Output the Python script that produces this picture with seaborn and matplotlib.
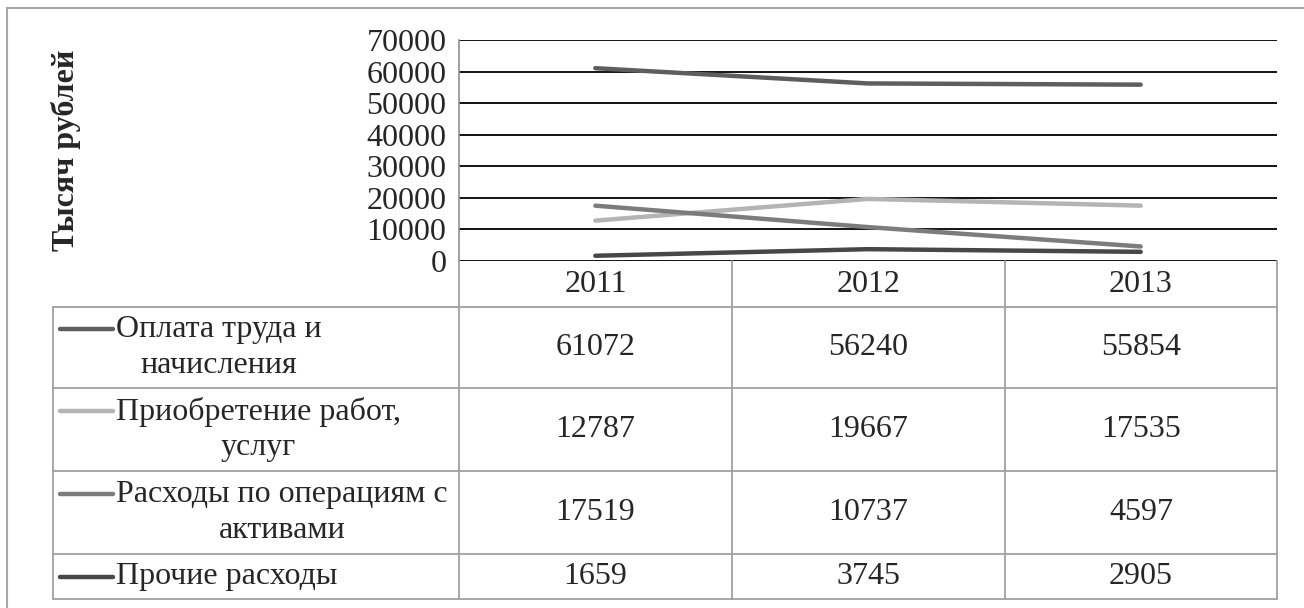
import matplotlib
matplotlib.use("Agg")
import matplotlib.pyplot as plt
import seaborn as sns
import pandas as pd
from matplotlib.lines import Line2D
from matplotlib.patches import Rectangle

years = ["2011", "2012", "2013"]
series_names = ["Оплата труда и\nначисления", "Приобретение работ,\nуслуг",
                "Расходы по операциям с\nактивами", "Прочие расходы"]
wages = [61072, 56240, 55854]
services = [12787, 19667, 17535]
assets = [17519, 10737, 4597]
other = [1659, 3745, 2905]
y_ticks = [0, 10000, 20000, 30000, 40000, 50000, 60000, 70000]
y_label = "Тысяч рублей"

colors = ["#5e5e5e", "#b4b4b4", "#7c7c7c", "#474747"]
values = [wages, services, assets, other]

rows = []
for name, vals in zip(series_names, values):
    for i, (yr, v) in enumerate(zip(years, vals)):
        rows.append({"series": name, "x": i, "year": yr, "value": v})
df = pd.DataFrame(rows)

sns.set_theme(style="white")
plt.rcParams["font.family"] = ["Liberation Serif", "DejaVu Serif"]

FS = 23
W, H = 1304, 608
fig = plt.figure(figsize=(W / 100, H / 100), dpi=100)

def fx(px):
    return px / W

def fy(py):
    return 1 - py / H

left, right, top, bottom = 459, 1277, 40, 261
ax = fig.add_axes([fx(left), fy(bottom), fx(right - left), (bottom - top) / H])
sns.lineplot(data=df, x="x", y="value", hue="series", palette=colors,
             hue_order=series_names, linewidth=3.2, legend=False, ax=ax,
             sort=False)
ax.set_xlim(-0.5, 2.5)
ax.set_ylim(0, 70000)
ax.set_yticks(y_ticks)
ax.set_yticklabels([str(t) for t in y_ticks], fontsize=FS)
ax.set_xticks([])
ax.set_xlabel("")
ax.set_ylabel("")
ax.tick_params(axis="y", length=0, pad=9)
for t in y_ticks:
    ax.axhline(t, color="black", linewidth=1.3, zorder=0)
for s in ["top", "right", "bottom"]:
    ax.spines[s].set_visible(False)
ax.spines["left"].set_color("#909090")
ax.spines["left"].set_linewidth(1.2)

fig.text(fx(66), fy(150), y_label, rotation=90, fontsize=FS,
         fontweight="bold", ha="center", va="center")

# outer border (top and left visible)
fig.add_artist(Rectangle((fx(7), fy(650)), fx(1400), (650 - 8) / H,
                         fill=False, edgecolor="#a8a8a8", linewidth=1.5,
                         transform=fig.transFigure))

gc = "#a0a0a0"
lw = 1.3
col_x = [459, 732, 1005, 1277]
row_y = [307, 388, 471, 554, 599]

def hline(y, x0, x1, color=gc):
    fig.add_artist(Line2D([fx(x0), fx(x1)], [fy(y), fy(y)], color=color,
                          linewidth=lw, transform=fig.transFigure))

def vline(x, y0, y1, color=gc):
    fig.add_artist(Line2D([fx(x), fx(x)], [fy(y0), fy(y1)], color=color,
                          linewidth=lw, transform=fig.transFigure))

for y in row_y:
    hline(y, 53, 1277)
vline(53, 307, 599)
vline(459, 261, 599)
for x in col_x[1:]:
    vline(x, 261, 599)

# header years
for i, yr in enumerate(years):
    cx = (col_x[i] + col_x[i + 1]) / 2
    fig.text(fx(cx), fy(284), yr, fontsize=FS, ha="center", va="center")

# rows
for r, (name, vals, c) in enumerate(zip(series_names, values, colors)):
    y0, y1 = row_y[r], row_y[r + 1]
    cy = (y0 + y1) / 2
    n_lines = name.count("\n") + 1
    key_y = cy - 19 if n_lines == 2 else cy
    fig.add_artist(Line2D([fx(60), fx(113)], [fy(key_y), fy(key_y)], color=c,
                          linewidth=3.2, transform=fig.transFigure,
                          solid_capstyle="round"))
    fig.text(fx(116), fy(cy), name, fontsize=FS, ha="left", va="center",
             multialignment="center", linespacing=1.28)
    for i, v in enumerate(vals):
        cx = (col_x[i] + col_x[i + 1]) / 2
        fig.text(fx(cx), fy(cy), str(v), fontsize=FS, ha="center",
                 va="center")

fig.savefig("out.png", dpi=100, facecolor="white")
